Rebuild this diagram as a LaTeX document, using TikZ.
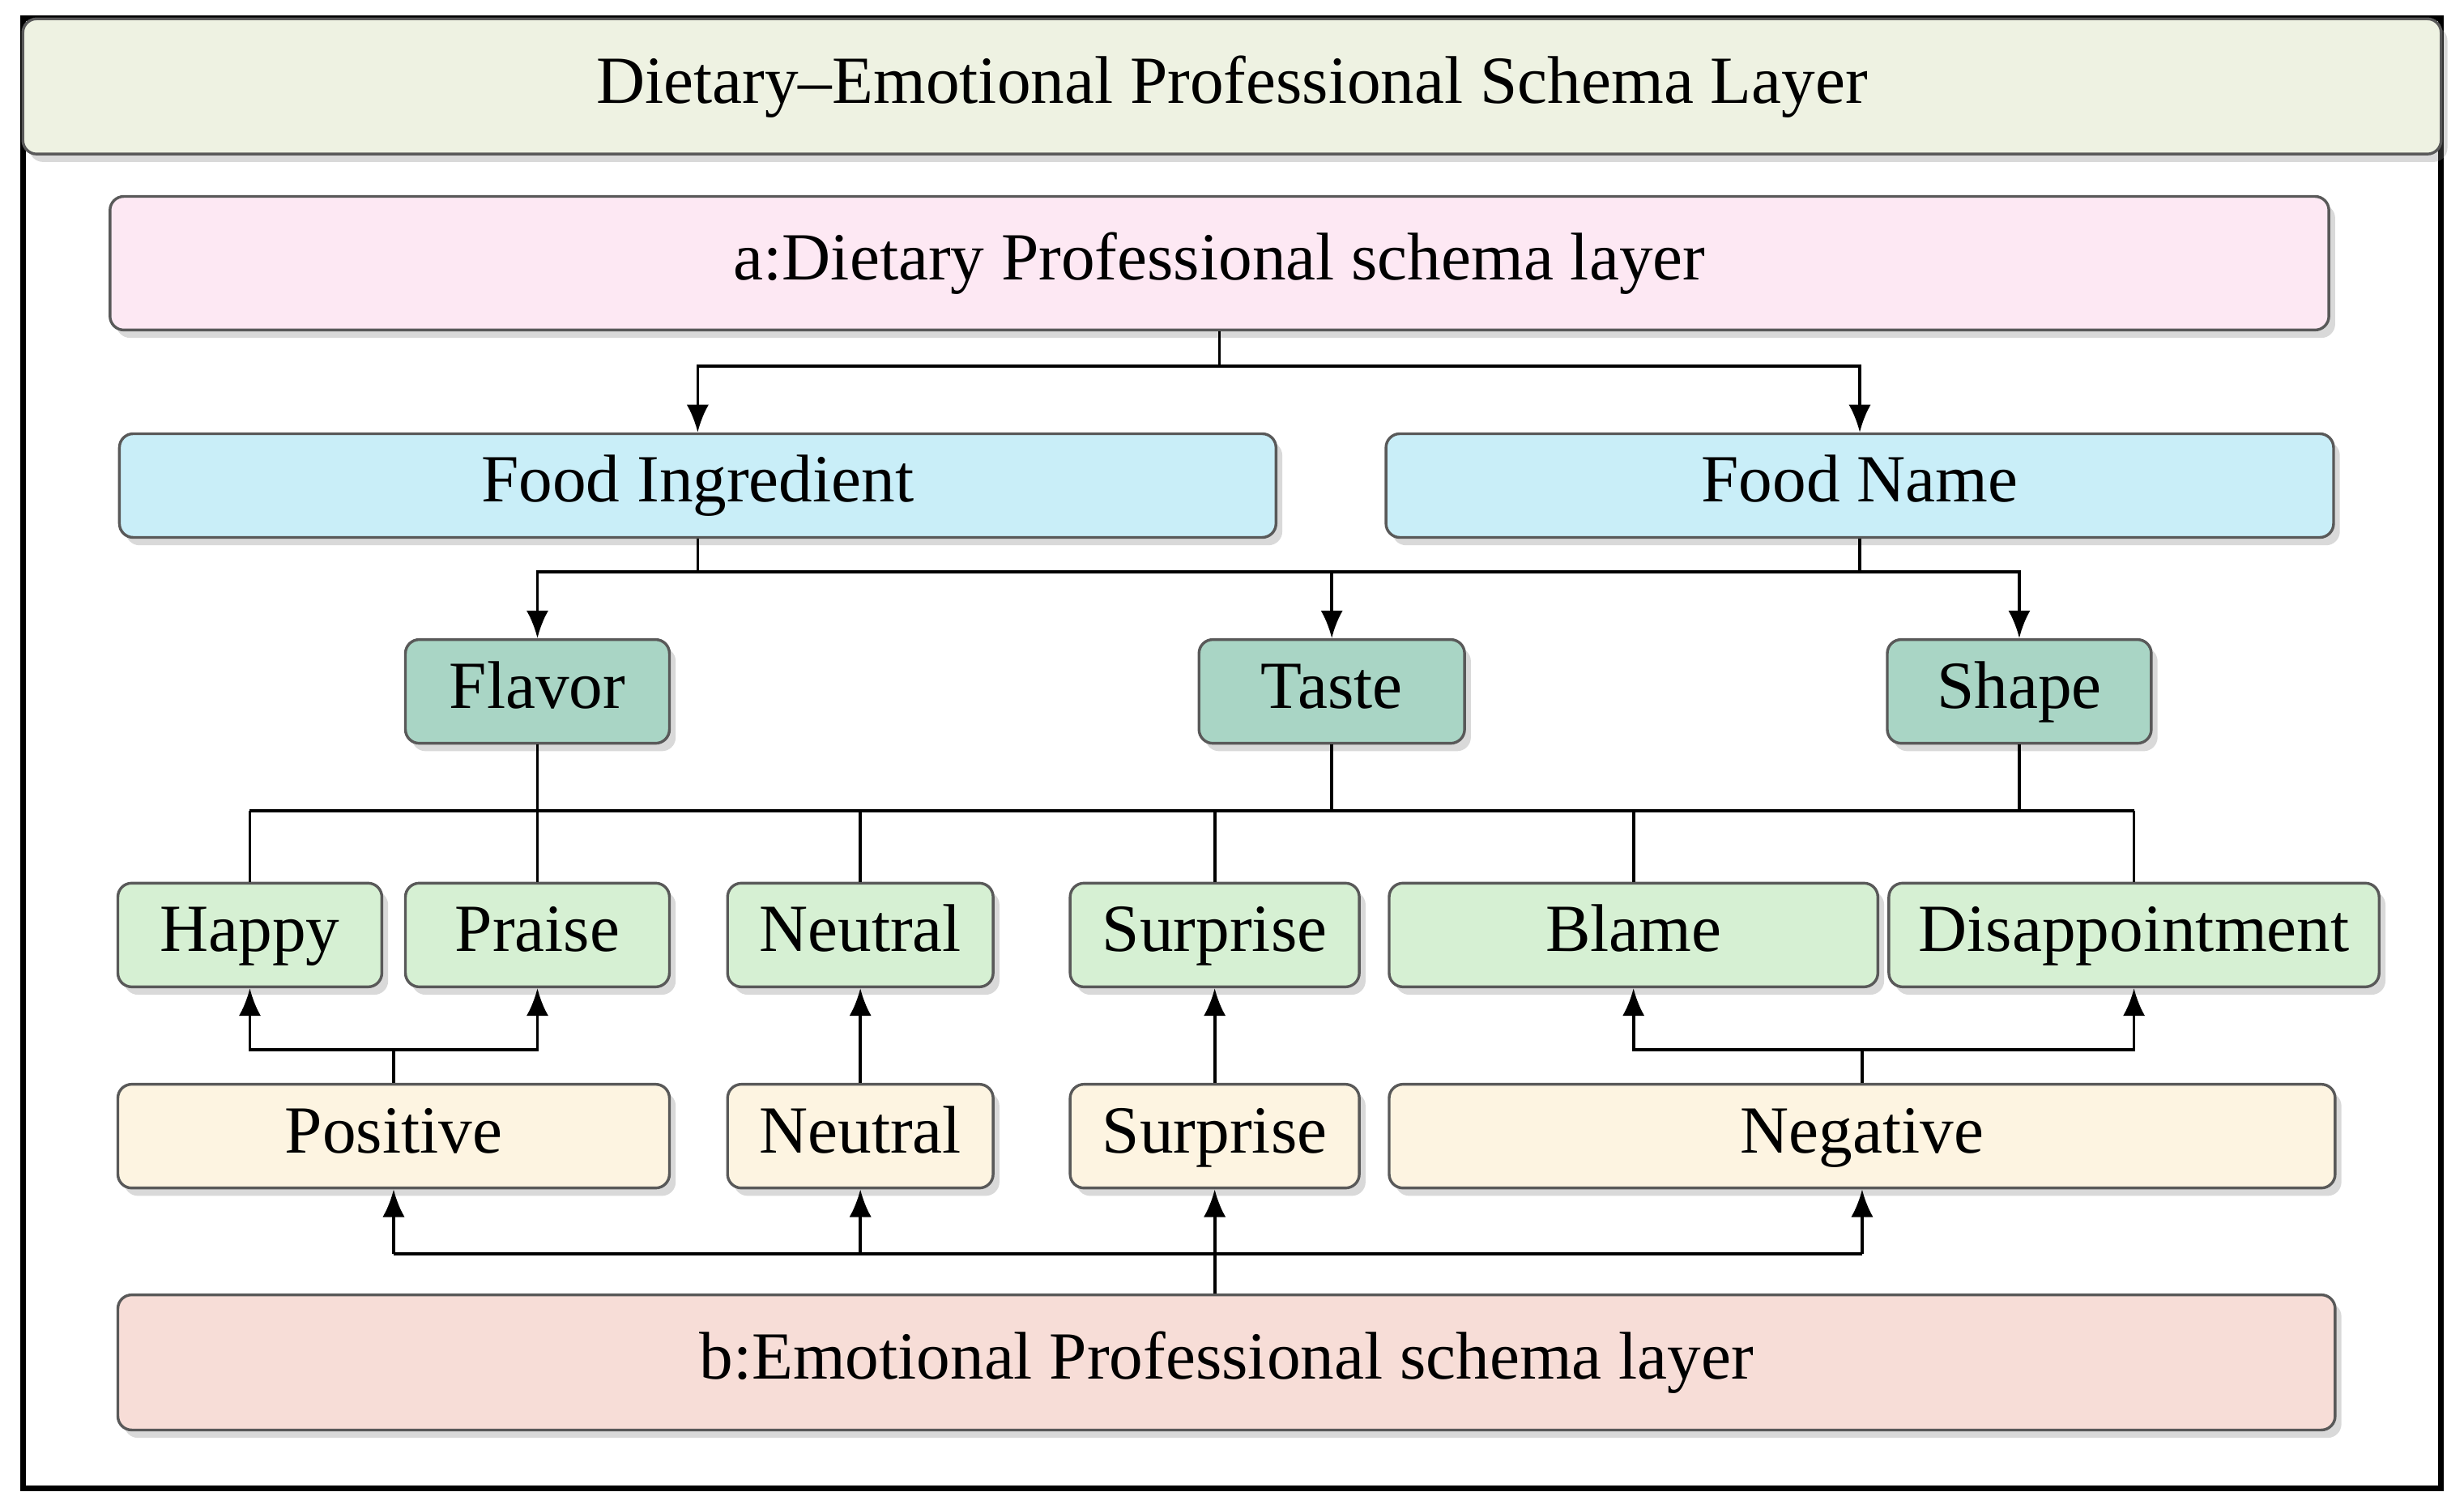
\documentclass[tikz,border=0pt]{standalone}
\usepackage{fontspec}
\setmainfont{Liberation Serif}
\usetikzlibrary{shadows,arrows.meta}
\definecolor{hdr}{HTML}{EEF2E2}
\definecolor{pinkA}{HTML}{FDE8F3}
\definecolor{blueA}{HTML}{C9EEF8}
\definecolor{tealA}{HTML}{A9D5C5}
\definecolor{greenA}{HTML}{D6F0D3}
\definecolor{creamA}{HTML}{FDF4E1}
\definecolor{salmA}{HTML}{F7DDD7}
\tikzset{
  box/.style={draw=black!65,line width=0.5pt,rounded corners=2.5pt,inner sep=0pt,font=\fontsize{12.2}{14}\selectfont,
    text height=8.5pt,text depth=2.5pt,
    drop shadow={opacity=0.3,shadow xshift=0.04cm,shadow yshift=-0.05cm}},
  ln/.style={line width=0.55pt,draw=black},
  arr/.style={ln,-{Latex[length=5pt,width=4pt]}}
}
\newcommand\bx[7]{\node[box,fill=#6,minimum width={(#4-#2)*0.01cm},minimum height={(#5-#3)*0.01cm}] (#1) at ({(#2+#4)/2},{(#3+#5)/2}) {#7};}
\begin{document}
\begin{tikzpicture}[x=0.01cm,y=-0.01cm]
\useasboundingbox (0,0) rectangle (1568,960);
\node[draw=black,line width=1pt,minimum width=15.38cm,minimum height=9.35cm,inner sep=0pt] (frame) at (784,479.5) {};
\node[box,fill=hdr,minimum width=15.38cm,minimum height=0.86cm] (hdr) at (784,55) {Dietary–Emotional Professional Schema Layer};
\bx{a}{70}{125}{1482}{210}{pinkA}{a:Dietary Professional schema layer}
\bx{fi}{76}{276}{812}{342}{blueA}{Food Ingredient}
\bx{fn}{882}{276}{1485}{342}{blueA}{Food Name}
\bx{flavor}{258}{407}{426}{473}{tealA}{Flavor}
\bx{taste}{763}{407}{932}{473}{tealA}{Taste}
\bx{shape}{1201}{407}{1369}{473}{tealA}{Shape}
\bx{happy}{75}{562}{243}{628}{greenA}{Happy}
\bx{praise}{258}{562}{426}{628}{greenA}{Praise}
\bx{neu}{463}{562}{632}{628}{greenA}{Neutral}
\bx{sur}{681}{562}{865}{628}{greenA}{Surprise}
\bx{blame}{884}{562}{1195}{628}{greenA}{Blame}
\bx{dis}{1202}{562}{1514}{628}{greenA}{Disappointment}
\bx{pos}{75}{690}{426}{756}{creamA}{Positive}
\bx{neu2}{463}{690}{632}{756}{creamA}{Neutral}
\bx{sur2}{681}{690}{865}{756}{creamA}{Surprise}
\bx{neg}{884}{690}{1486}{756}{creamA}{Negative}
\bx{b}{75}{824}{1486}{910}{salmA}{b:Emotional Professional schema layer}
\draw[arr] (a.south) -- ++(0,22) -| (fi.north);
\draw[arr] (a.south) -- ++(0,22) -| (fn.north);
\coordinate (h1) at (0,364);
\draw[arr] (fi.south) -- (fi.south |- h1) -| (flavor.north);
\draw[arr] (fn.south) -- (fn.south |- h1) -| (shape.north);
\draw[ln] (fi.south |- h1) -- (fn.south |- h1);
\draw[arr] (taste.north |- h1) -- (taste.north);
\coordinate (m) at (0,516);
\draw[ln] (happy.north |- m) -- (dis.north |- m);
\foreach \n in {flavor,taste,shape} \draw[ln] (\n.south) -- (\n.south |- m);
\foreach \n in {happy,praise,neu,sur,blame,dis} \draw[ln] (\n.north |- m) -- (\n.north);
\coordinate (p) at (0,668);
\draw[ln] (pos.north) -- (pos.north |- p);
\draw[arr] (pos.north |- p) -| (happy.south);
\draw[arr] (pos.north |- p) -| (praise.south);
\draw[arr] (neu2.north) -- (neu.south);
\draw[arr] (sur2.north) -- (sur.south);
\draw[ln] (neg.north) -- (neg.north |- p);
\draw[arr] (neg.north |- p) -| (blame.south);
\draw[arr] (neg.north |- p) -| (dis.south);
\coordinate (q) at (0,798);
\draw[ln] (b.north -| sur2.south) -- (sur2.south |- q);
\draw[ln] (pos.south |- q) -- (neg.south |- q);
\foreach \n in {pos,neu2,sur2,neg} \draw[arr] (\n.south |- q) -- (\n.south);
\end{tikzpicture}
\end{document}
